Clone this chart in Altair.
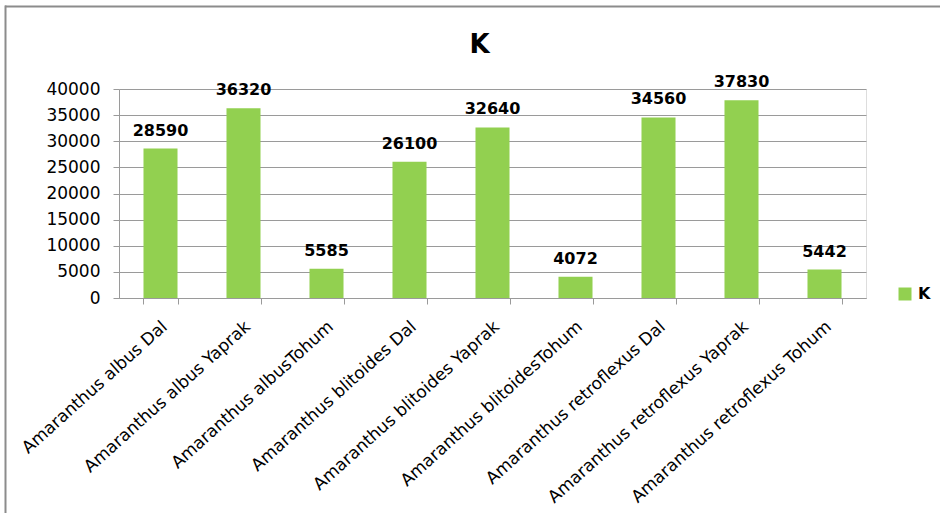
import altair as alt
import pandas as pd

# Potassium (K) content per plant part
categories = [
    "Amaranthus albus Dal",
    "Amaranthus albus Yaprak",
    "Amaranthus albusTohum",
    "Amaranthus blitoides Dal",
    "Amaranthus blitoides Yaprak",
    "Amaranthus blitoidesTohum",
    "Amaranthus retroflexus Dal",
    "Amaranthus retroflexus Yaprak",
    "Amaranthus retroflexus Tohum",
]
k_values = [28590, 36320, 5585, 26100, 32640, 4072, 34560, 37830, 5442]
series_name = "K"
y_ticks = [0, 5000, 10000, 15000, 20000, 25000, 30000, 35000, 40000]

df = pd.DataFrame({"cat": categories, "val": k_values, "series": series_name})

FONT = "DejaVu Sans"
GREEN = "#92D050"
GRID = "#9a9a9a"

x_enc = alt.X(
    "cat:N",
    sort=categories,
    title=None,
    scale=alt.Scale(paddingInner=0.59, paddingOuter=0.295),
    axis=alt.Axis(
        labelAngle=-42,
        labelAlign="right",
        labelBaseline="middle",
        labelPadding=20,
        labelOffset=4,
        labelFont=FONT,
        labelFontSize=17,
        labelColor="#000000",
        labelLimit=400,
        tickBand="extent",
        tickSize=6,
        tickColor=GRID,
        domainColor=GRID,
        grid=False,
    ),
)
y_enc = alt.Y(
    "val:Q",
    title=None,
    scale=alt.Scale(domain=[0, 40000], nice=False),
    axis=alt.Axis(
        values=y_ticks,
        tickCount=len(y_ticks) + 1,
        format="d",
        labelOverlap=False,
        labelFont=FONT,
        labelFontSize=17,
        labelColor="#000000",
        labelPadding=13,
        tickSize=6,
        tickColor=GRID,
        domainColor=GRID,
        grid=True,
        gridColor=GRID,
    ),
)

bars = alt.Chart(df).mark_bar(color=GREEN).encode(
    x=x_enc,
    y=y_enc,
    color=alt.Color(
        "series:N",
        scale=alt.Scale(range=[GREEN]),
        legend=alt.Legend(
            title=None,
            orient="none",
            legendX=778,
            legendY=197,
            symbolType="square",
            symbolSize=169,
            symbolStrokeWidth=0,
            labelFont=FONT,
            labelFontWeight="bold",
            labelFontSize=16,
            labelColor="#000000",
            labelOffset=5,
            padding=0,
        ),
    ),
)

labels = alt.Chart(df).mark_text(
    font=FONT,
    fontWeight="bold",
    fontSize=16,
    baseline="alphabetic",
    dy=-13,
    color="#000000",
).encode(x=x_enc, y=y_enc, text=alt.Text("val:Q", format="d"))

# chart frame: top and left edges
frame_src = pd.DataFrame({"edge": ["frame"]})
top_edge = alt.Chart(frame_src).mark_rule(color="#8c8c8c", strokeWidth=2).encode(
    x=alt.value(-114), x2=alt.value(830), y=alt.value(-82.5)
)
left_edge = alt.Chart(frame_src).mark_rule(color="#8c8c8c", strokeWidth=2).encode(
    x=alt.value(-113.5), y=alt.value(-83.5), y2=alt.value(430)
)

chart = (
    alt.layer(bars, labels, top_edge, left_edge)
    .properties(
        width=747,
        height=209,
        autosize=alt.AutoSizeParams(type="none"),
        padding={"left": 119, "top": 89, "right": 74, "bottom": 215},
        title=alt.Title(
            "K",
            font=FONT,
            fontSize=26,
            fontWeight="bold",
            color="#000000",
            anchor="middle",
            frame="group",
            baseline="alphabetic",
            dx=-13,
            dy=78,
        ),
    )
    .configure_view(stroke=None)
    .configure(background="white")
)

chart.save("out.html", embed_options={"renderer": "svg", "actions": False})
